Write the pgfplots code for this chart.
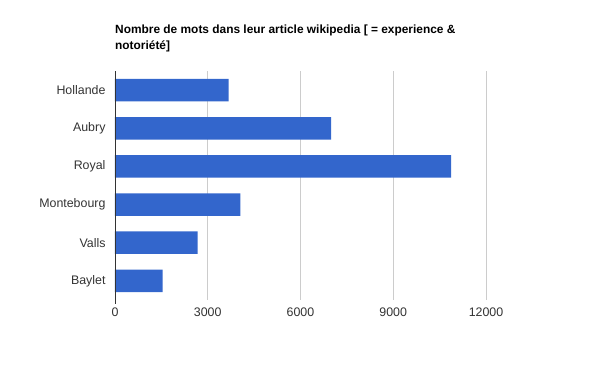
\documentclass[border=0pt]{standalone}
\usepackage{pgfplots}
\pgfplotsset{compat=1.18}
\usepackage{fontspec}
\setmainfont{Liberation Sans}
\definecolor{barblue}{HTML}{3366CC}
\definecolor{gridgray}{HTML}{CCCCCC}
\definecolor{labgray}{HTML}{333333}
\begin{document}
\begin{tikzpicture}[x=1pt,y=1pt]
\path[use as bounding box] (0,0) rectangle (600,371);
\node[anchor=base west,inner sep=0pt,font=\fontsize{11.9}{13}\selectfont\bfseries] at (115,337) {Nombre de mots dans leur article wikipedia [ = experience \&};
\node[anchor=base west,inner sep=0pt,font=\fontsize{11.9}{13}\selectfont\bfseries] at (115,321) {notoriété]};
\begin{axis}[
  at={(115pt,71pt)}, anchor=south west,
  scale only axis, width=371pt, height=229pt,
  xbar, bar width=22.5pt,
  xmin=0, xmax=12000,
  ymin=-0.5, ymax=5.5, y dir=reverse,
  ytick={0,1,2,3,4,5},
  yticklabels={Hollande,Aubry,Royal,Montebourg,Valls,Baylet},
  xtick={0,3000,6000,9000,12000},
  scaled ticks=false,
  xmajorgrids, grid style={gridgray, line width=0.8pt},
  axis line style={draw=none},
  major tick length=0pt,
  tick label style={font=\fontsize{12.4}{14}\selectfont, text=labgray},
  /pgf/number format/assume math mode=true,
  /pgf/number format/1000 sep={},
  xticklabel style={yshift=-4pt},
  yticklabel style={xshift=-6pt},
  clip=false,
]
\addplot[fill=barblue, draw=none] coordinates {
(3672,0) (6988,1) (10873,2) (4059,3) (2671,4) (1540,5)
};
\draw[black!80, line width=0.8pt] (axis cs:0,-0.5) -- (axis cs:0,5.6);
\end{axis}
\end{tikzpicture}
\end{document}
